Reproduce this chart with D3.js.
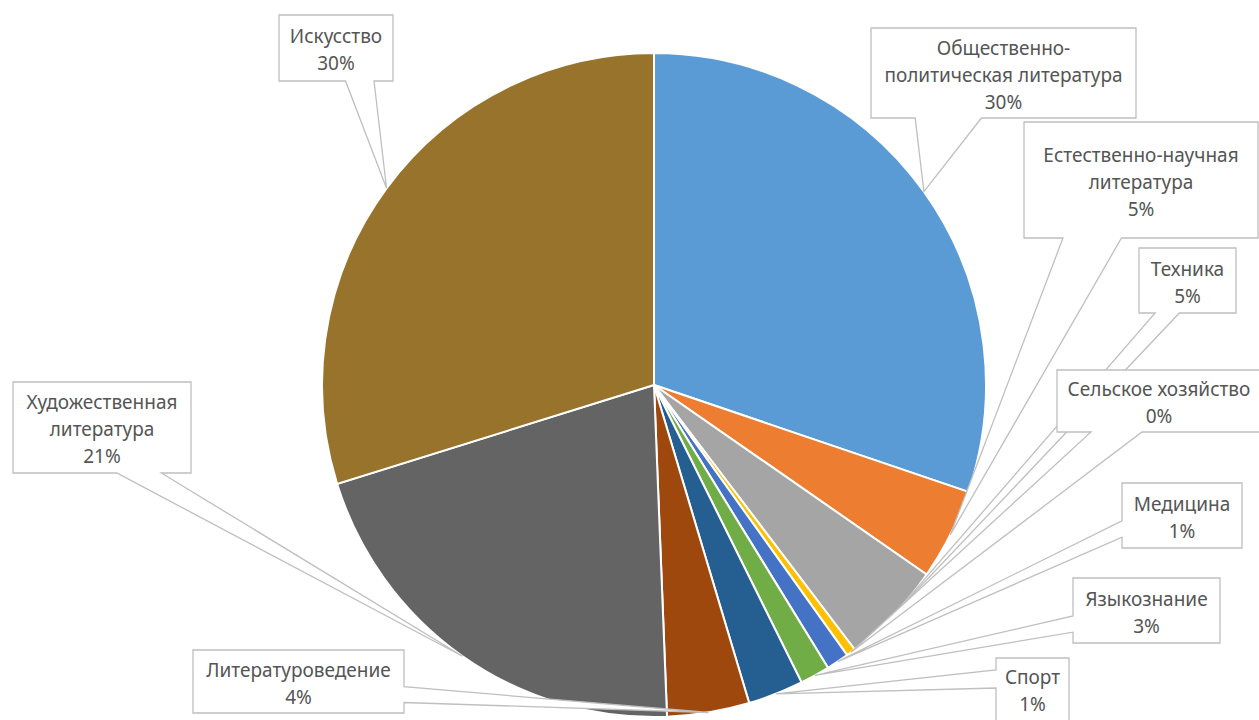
<!DOCTYPE html>
<html>
<head>
<meta charset="utf-8">
<script src="https://cdn.jsdelivr.net/npm/d3@7"></script>
<style>
  body { margin: 0; background: #fff; }
  .lbl { font-family: "Noto Sans", "Open Sans", sans-serif; font-size: 19px; fill: #555; }
</style>
</head>
<body>
<div id="chart"></div>
<script>
// categories clockwise from 12 o'clock ("\n" = line break in the label)
var categories = ["Общественно-\nполитическая литература", "Естественно-научная\nлитература", "Техника",
                  "Сельское хозяйство", "Медицина", "Языкознание", "Спорт", "Литературоведение",
                  "Художественная\nлитература", "Искусство"];
// slice sizes
var values = [30.2, 4.45, 5.0, 0.45, 1.1, 1.45, 2.7, 4.0, 20.8, 29.8];
// percentages as printed in the labels
var shares = ["30%", "5%", "5%", "0%", "1%", "3%", "1%", "4%", "21%", "30%"];
var colors = ["#5b9bd5", "#ed7d31", "#a5a5a5", "#ffc000", "#4472c4", "#70ad47", "#255e91", "#9e480e", "#646464", "#98732b"];

// where each callout box sits: [x, y, w, h, text shift]
var boxes = [[871, 28, 265, 90, 2], [1024, 122, 234, 116, 2], [1139, 248, 97, 65, 2], [1057, 370, 204, 62, 2],
             [1122, 483, 120, 65, 2], [1073, 578, 147, 65, 2], [996, 658, 73, 72, -3], [193, 650, 211, 63, 2],
             [13, 382, 178, 91, 2], [279, 15, 114, 66, 2]];

var w = 1259, h = 720;
var cx = 654, cy = 385, radius = 332;

function main() {
    var svg = d3.select("#chart").append("svg")
        .attr("width", w)
        .attr("height", h);

    var pie = d3.pie().sort(null).value(function(d) { return d; });
    var arcs = pie(values);
    var arc = d3.arc().innerRadius(0).outerRadius(radius);

    var color = d3.scaleOrdinal()
        .domain(d3.range(categories.length))
        .range(colors);

    var g = svg.append("g").attr("transform", "translate(" + cx + "," + cy + ")");

    g.selectAll("path")
        .data(arcs)
        .enter()
        .append("path")
        .attr("d", arc)
        .style("fill", function(d, i) { return color(i); })
        .style("stroke", "#fff")
        .style("stroke-width", 2);

    // callout boxes with a wedge pointing to the middle of the slice
    var labels = svg.append("g");
    arcs.forEach(function(d, i) {
        var a = (d.startAngle + d.endAngle) / 2;
        var tx = cx + radius * Math.sin(a),
            ty = cy - radius * Math.cos(a);
        var b = boxes[i];

        labels.append("path")
            .attr("d", calloutPath(b[0], b[1], b[2], b[3], tx, ty))
            .style("fill", "#fff")
            .style("stroke", "#bfbfbf")
            .style("stroke-width", 1.3)
            .style("stroke-linejoin", "miter");

        var lines = categories[i].split("\n").concat([shares[i]]);
        var lh = 27;
        var y0 = b[1] + b[3] / 2 - (lines.length - 1) * lh / 2 + b[4];
        var t = labels.append("text")
            .attr("class", "lbl")
            .attr("text-anchor", "middle");
        lines.forEach(function(s, j) {
            t.append("tspan")
                .attr("x", b[0] + b[2] / 2)
                .attr("y", y0 + j * lh)
                .attr("dy", "0.35em")
                .text(s);
        });
    });
}

// rectangle callout like the office "wedgeRectCallout" shape
function calloutPath(x, y, bw, bh, tx, ty) {
    var mx = x + bw / 2, my = y + bh / 2;
    var dx = tx - mx, dy = ty - my;
    var p = [];
    var side = Math.abs(dx * bh) > Math.abs(dy * bw);
    var tip = [tx, ty];
    var ya = dy > 0 ? [y + bh * 7 / 12, y + bh * 10 / 12] : [y + bh * 2 / 12, y + bh * 5 / 12];
    var xa = dx > 0 ? [x + bw * 7 / 12, x + bw * 10 / 12] : [x + bw * 2 / 12, x + bw * 5 / 12];

    p.push([x, y]);
    if (!side && dy < 0) { p.push([xa[0], y], tip, [xa[1], y]); }
    p.push([x + bw, y]);
    if (side && dx > 0) { p.push([x + bw, ya[0]], tip, [x + bw, ya[1]]); }
    p.push([x + bw, y + bh]);
    if (!side && dy > 0) { p.push([xa[1], y + bh], tip, [xa[0], y + bh]); }
    p.push([x, y + bh]);
    if (side && dx < 0) { p.push([x, ya[1]], tip, [x, ya[0]]); }

    return "M" + p.map(function(q) { return q[0] + "," + q[1]; }).join("L") + "Z";
}

main();
</script>
</body>
</html>
